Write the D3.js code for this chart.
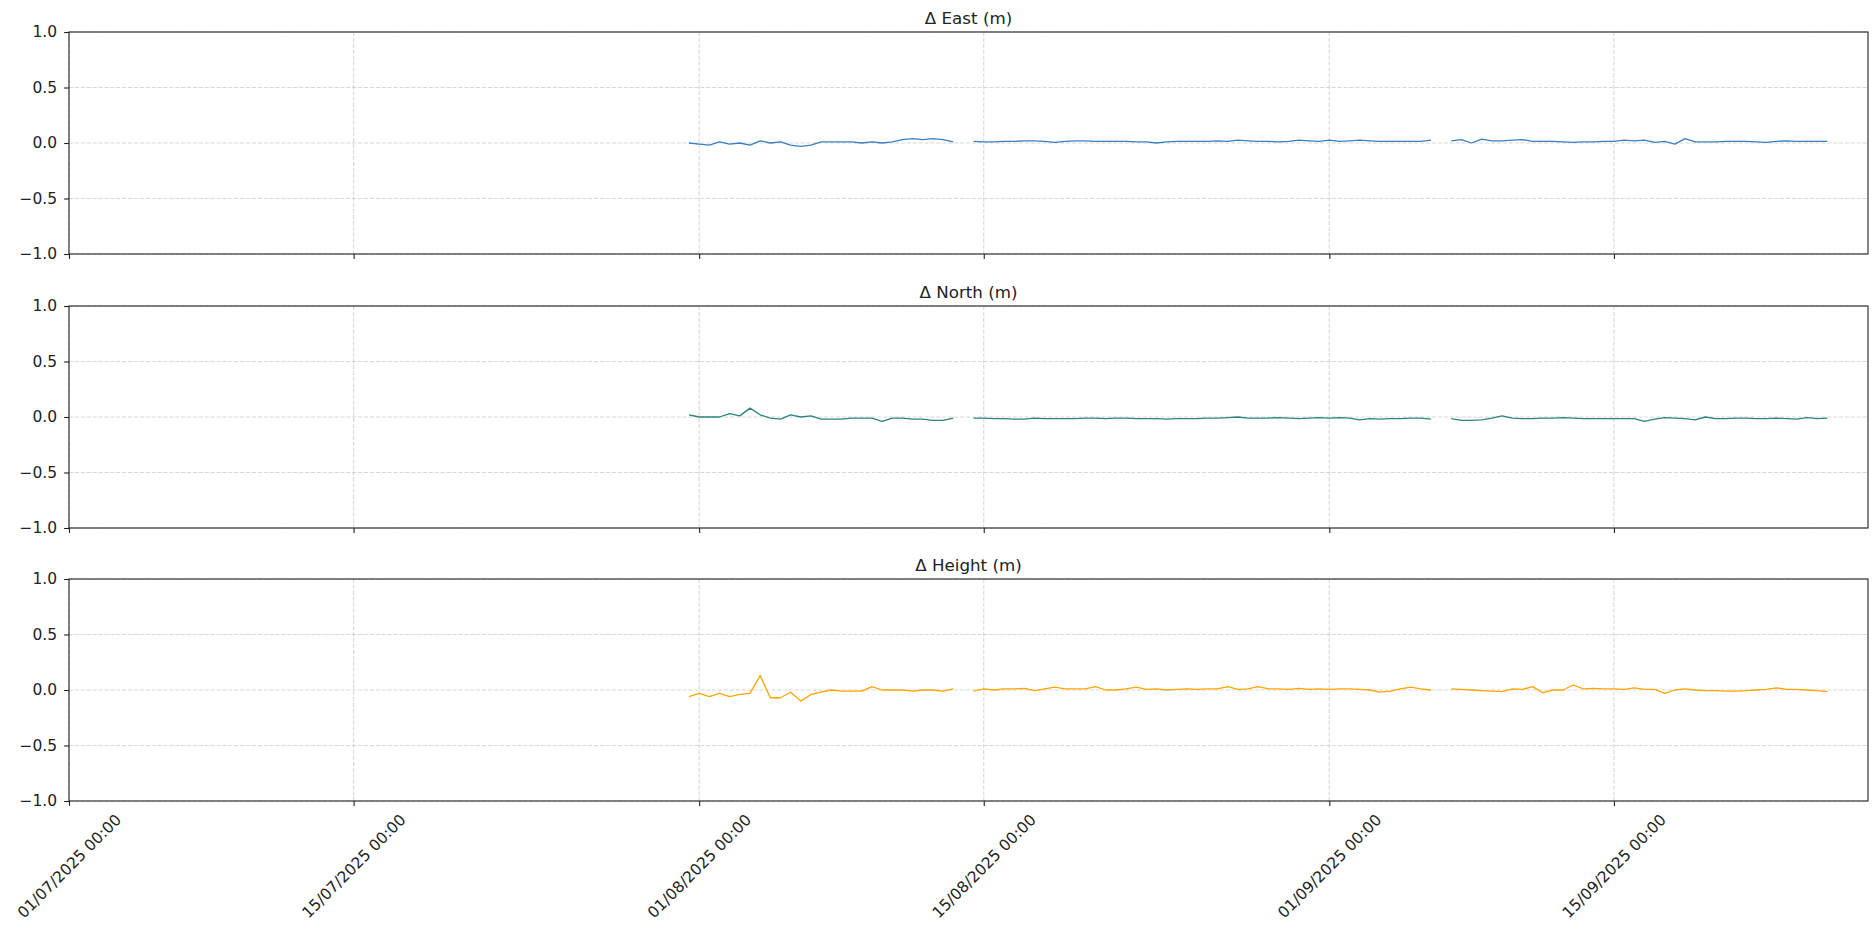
<!DOCTYPE html>
<html>
<head>
<meta charset="utf-8">
<script src="https://cdn.jsdelivr.net/npm/d3@7"></script>
<style>
  html, body { margin: 0; padding: 0; background: #ffffff; }
  svg { display: block; font-family: "DejaVu Sans", sans-serif; }
</style>
</head>
<body>
<svg id="chart" width="1872" height="932"></svg>
<script>
// Sampling: one fix every 12 hours starting 31/07/2025 12:00 UTC; null = no solution
const sampleStart = Date.UTC(2025, 6, 31, 12, 0);
const sampleStepHours = 12;

const deltaEast = [
  0.00, -0.01, -0.02, 0.01, -0.01, 0.00, -0.02, 0.02, 0.00, 0.01,
  -0.02, -0.03, -0.02, 0.01, 0.01, 0.01, 0.01, 0.00, 0.01, 0.00,
  0.01, 0.03, 0.04, 0.03, 0.04, 0.03, 0.01,
  null,
  0.015, 0.01, 0.01, 0.015, 0.015, 0.02, 0.02, 0.015, 0.005, 0.015,
  0.02, 0.02, 0.015, 0.015, 0.015, 0.015, 0.01, 0.01, 0.00, 0.01,
  0.015, 0.015, 0.015, 0.015, 0.02, 0.015, 0.025, 0.02, 0.015, 0.015,
  0.01, 0.015, 0.025, 0.02, 0.015, 0.025, 0.015, 0.02, 0.025, 0.02,
  0.015, 0.015, 0.015, 0.015, 0.015, 0.025,
  null,
  0.02, 0.03, 0.00, 0.035, 0.02, 0.02, 0.025, 0.03, 0.015, 0.015,
  0.015, 0.01, 0.005, 0.01, 0.01, 0.015, 0.015, 0.025, 0.02, 0.025,
  0.005, 0.015, -0.01, 0.04, 0.01, 0.01, 0.01, 0.015, 0.015, 0.015,
  0.01, 0.005, 0.015, 0.02, 0.015, 0.015, 0.015, 0.015
];

const deltaNorth = [
  0.02, 0.00, 0.00, 0.00, 0.03, 0.01, 0.08, 0.02, -0.01, -0.02,
  0.02, 0.00, 0.01, -0.02, -0.02, -0.02, -0.01, -0.01, -0.01, -0.04,
  -0.01, -0.01, -0.02, -0.02, -0.03, -0.03, -0.01,
  null,
  -0.01, -0.01, -0.015, -0.015, -0.02, -0.02, -0.01, -0.015, -0.015, -0.015,
  -0.015, -0.01, -0.01, -0.015, -0.01, -0.01, -0.015, -0.015, -0.015, -0.02,
  -0.015, -0.015, -0.015, -0.01, -0.01, -0.005, 0.00, -0.01, -0.01, -0.01,
  -0.005, -0.01, -0.015, -0.01, -0.005, -0.01, -0.005, -0.01, -0.025, -0.015,
  -0.02, -0.015, -0.015, -0.01, -0.01, -0.02,
  null,
  -0.015, -0.03, -0.03, -0.025, -0.01, 0.01, -0.01, -0.015, -0.015, -0.01,
  -0.01, -0.005, -0.01, -0.015, -0.015, -0.015, -0.015, -0.015, -0.015, -0.04,
  -0.02, -0.005, -0.01, -0.015, -0.025, 0.00, -0.015, -0.015, -0.01, -0.01,
  -0.015, -0.015, -0.01, -0.015, -0.02, -0.005, -0.015, -0.01
];

const deltaHeight = [
  -0.06, -0.03, -0.06, -0.03, -0.06, -0.04, -0.03, 0.13, -0.07, -0.07,
  -0.02, -0.10, -0.04, -0.02, 0.00, -0.01, -0.01, -0.01, 0.03, 0.00,
  0.00, 0.00, -0.01, 0.00, 0.00, -0.01, 0.01,
  null,
  -0.01, 0.01, 0.00, 0.01, 0.01, 0.015, -0.005, 0.01, 0.025, 0.01,
  0.01, 0.01, 0.03, 0.00, 0.00, 0.01, 0.025, 0.005, 0.01, 0.00,
  0.005, 0.01, 0.005, 0.01, 0.01, 0.03, 0.005, 0.01, 0.03, 0.01,
  0.01, 0.005, 0.015, 0.005, 0.01, 0.005, 0.01, 0.01, 0.005, 0.00,
  -0.02, -0.01, 0.01, 0.025, 0.01, 0.00,
  null,
  0.01, 0.005, 0.00, -0.005, -0.01, -0.015, 0.01, 0.005, 0.03, -0.025,
  0.00, 0.00, 0.045, 0.01, 0.015, 0.01, 0.01, 0.005, 0.02, 0.005,
  0.005, -0.03, 0.00, 0.01, 0.00, -0.005, -0.005, -0.01, -0.01, -0.005,
  0.00, 0.005, 0.02, 0.005, 0.005, 0.00, -0.005, -0.015
];

const panelTitles = ["\u0394 East (m)", "\u0394 North (m)", "\u0394 Height (m)"];
const panelColors = ["#3b7fc0", "#2a857c", "#ffa500"];
const panelSeries = [deltaEast, deltaNorth, deltaHeight];

const xDomain = [new Date(Date.UTC(2025, 6, 1)), new Date(Date.UTC(2025, 8, 27, 12))];
const xTickDates = [
  new Date(Date.UTC(2025, 6, 1)), new Date(Date.UTC(2025, 6, 15)),
  new Date(Date.UTC(2025, 7, 1)), new Date(Date.UTC(2025, 7, 15)),
  new Date(Date.UTC(2025, 8, 1)), new Date(Date.UTC(2025, 8, 15))
];
const yDomain = [-1, 1];
const yTickValues = [-1, -0.5, 0, 0.5, 1];

// ---- layout ----
const svg = d3.select("#chart");
const left = 69, right = 1868;
const panelTops = [32, 306, 579];
const panelH = 222;
const tickLen = 4.9, tickPad = 4.9, yTickPad = 7;
const fontTick = 15.5, fontTitle = 16.7;
const inkColor = "#222";

const x = d3.scaleUtc().domain(xDomain).range([left, right]);
const times = deltaEast.map((_, i) => new Date(sampleStart + i * sampleStepHours * 3600 * 1000));

panelSeries.forEach((series, p) => {
  const top = panelTops[p], bottom = top + panelH;
  const y = d3.scaleLinear().domain(yDomain).range([bottom, top]);
  const g = svg.append("g");

  // grid
  g.append("g").selectAll("line").data(yTickValues).join("line")
    .attr("x1", left).attr("x2", right)
    .attr("y1", d => y(d)).attr("y2", d => y(d))
    .attr("stroke", "#b0b0b0").attr("stroke-opacity", 0.5)
    .attr("stroke-width", 1.1).attr("stroke-dasharray", "4.1,1.8");
  g.append("g").selectAll("line").data(xTickDates).join("line")
    .attr("x1", d => x(d)).attr("x2", d => x(d))
    .attr("y1", top).attr("y2", bottom)
    .attr("stroke", "#b0b0b0").attr("stroke-opacity", 0.5)
    .attr("stroke-width", 1.1).attr("stroke-dasharray", "4.1,1.8");

  // data line
  const line = d3.line()
    .defined(d => d[1] !== null)
    .x(d => x(d[0]))
    .y(d => y(d[1]));
  g.append("path")
    .datum(series.map((v, i) => [times[i], v]))
    .attr("fill", "none")
    .attr("stroke", panelColors[p])
    .attr("stroke-width", 1.3)
    .attr("stroke-linejoin", "round")
    .attr("d", line);

  // y axis
  const yAxis = g.append("g").attr("transform", `translate(${left},0)`)
    .call(d3.axisLeft(y).tickValues(yTickValues).tickFormat(d3.format(".1f"))
      .tickSize(tickLen).tickPadding(yTickPad));
  yAxis.select(".domain").remove();
  yAxis.selectAll("line").attr("stroke", inkColor).attr("stroke-width", 1.1);
  yAxis.selectAll("text").attr("font-size", fontTick).attr("fill", inkColor)
    .attr("font-family", "DejaVu Sans");

  // x axis
  const xAxis = g.append("g").attr("transform", `translate(0,${bottom})`)
    .call(d3.axisBottom(x).tickValues(xTickDates)
      .tickFormat(d3.utcFormat("%d/%m/%Y %H:%M"))
      .tickSize(tickLen).tickPadding(tickPad));
  xAxis.select(".domain").remove();
  xAxis.selectAll("line").attr("stroke", inkColor).attr("stroke-width", 1.1);
  if (p < 2) {
    xAxis.selectAll("text").remove();
  } else {
    xAxis.selectAll("text")
      .attr("font-size", fontTick).attr("fill", inkColor)
      .attr("font-family", "DejaVu Sans")
      .attr("dy", null)
      .attr("text-anchor", "middle")
      .attr("dominant-baseline", "central")
      .each(function () {
        const L = this.getComputedTextLength();
        const h = fontTick * 1.16;
        const half = (L + h) / (2 * Math.SQRT2);
        d3.select(this).attr("y", null)
          .attr("transform", `translate(0,${tickLen + tickPad + half}) rotate(-45)`);
      });
  }

  // frame
  g.append("rect")
    .attr("x", left).attr("y", top)
    .attr("width", right - left).attr("height", panelH)
    .attr("fill", "none").attr("stroke", inkColor).attr("stroke-width", 1.1);

  // title
  g.append("text")
    .attr("x", (left + right) / 2).attr("y", top - 8.3)
    .attr("text-anchor", "middle")
    .attr("font-size", fontTitle).attr("fill", inkColor)
    .text(panelTitles[p]);
});
</script>
</body>
</html>
